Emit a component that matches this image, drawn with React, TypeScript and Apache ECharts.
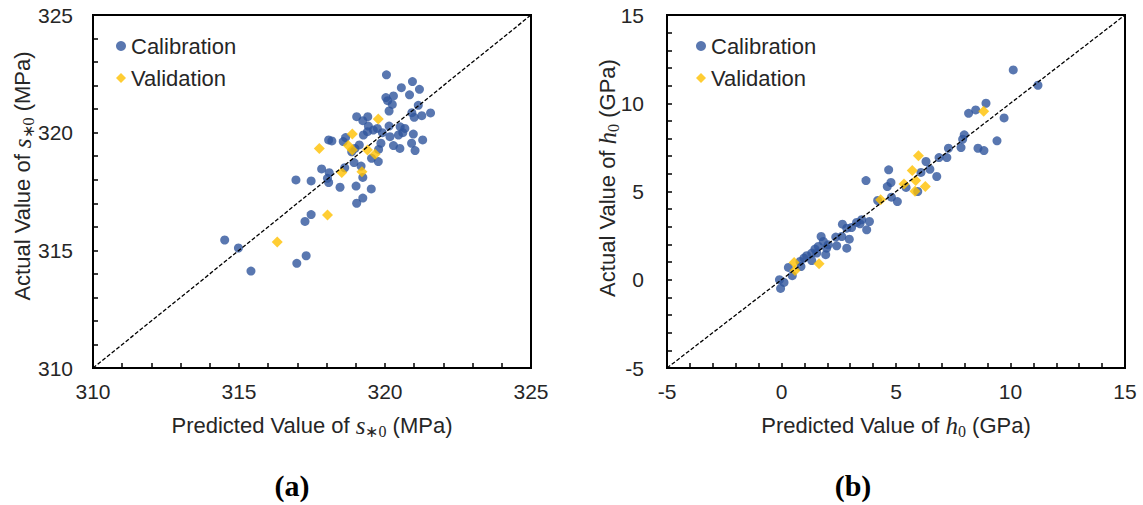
import React, { useEffect, useRef } from "react";
import * as echarts from "echarts";

// Panel (a): s*0 (MPa)   [predicted, actual]
const calA: number[][] = [
  [320.05, 322.46], [320.94, 322.17], [320.56, 321.91], [321.18, 321.84], [320.84, 321.61],
  [320.03, 321.49], [320.29, 321.56], [320.09, 321.36], [320.25, 321.2], [321.14, 321.16],
  [320.14, 320.92], [320.92, 320.85], [321.56, 320.84], [321.26, 320.72], [321.0, 320.65],
  [319.03, 320.68], [319.41, 320.68], [319.24, 320.51], [319.43, 320.28], [320.14, 320.28],
  [319.6, 320.11], [319.4, 320.04], [319.74, 320.18], [319.91, 320.0], [320.52, 320.25],
  [320.68, 320.18], [320.61, 320.0], [320.46, 319.9], [320.17, 319.83], [319.26, 319.9],
  [320.97, 319.94], [321.29, 319.69], [320.91, 319.55], [320.29, 319.45], [320.51, 319.33],
  [321.03, 319.24], [319.86, 319.55], [319.12, 319.48], [319.78, 319.29], [318.07, 319.69],
  [318.18, 319.65], [318.65, 319.79], [318.57, 319.62], [318.97, 319.33], [318.86, 319.19],
  [319.54, 318.91], [319.77, 318.77], [318.94, 318.73], [319.18, 318.58], [317.83, 318.46],
  [318.09, 318.3], [318.03, 318.06], [318.62, 318.51], [319.24, 318.1], [316.95, 317.99],
  [317.47, 317.95], [318.07, 317.88], [318.46, 317.68], [319.01, 317.73], [319.53, 317.61],
  [319.24, 317.22], [319.03, 317.0], [317.47, 316.52], [317.26, 316.23], [314.51, 315.44],
  [314.98, 315.1], [315.41, 314.12], [316.98, 314.45], [317.3, 314.77],
];
const valA: number[][] = [
  [319.77, 320.58], [318.88, 319.94], [317.75, 319.33], [318.74, 319.45], [318.88, 319.26],
  [319.4, 319.26], [319.66, 319.08], [318.52, 318.31], [319.21, 318.34], [318.03, 316.5],
  [316.31, 315.35],
];
const diagA: number[][] = [[310, 310], [325, 325]];

// Panel (b): h0 (GPa)   [predicted, actual]
const calB: number[][] = [
  [10.12, 11.89], [11.2, 11.02], [8.93, 10.0], [8.48, 9.62], [8.17, 9.43], [9.72, 9.17],
  [9.41, 7.87], [8.58, 7.45], [8.84, 7.32], [7.98, 8.21], [7.91, 7.96], [7.84, 7.49],
  [7.29, 7.45], [6.88, 6.92], [7.22, 6.92], [6.31, 6.7], [6.09, 6.08], [6.48, 6.26],
  [6.78, 5.85], [5.44, 5.23], [5.95, 5.0], [4.68, 6.23], [4.78, 5.51], [4.62, 5.28],
  [4.8, 4.68], [5.06, 4.43], [4.2, 4.49], [3.69, 5.62], [3.72, 2.83], [3.84, 3.3],
  [3.5, 3.4], [3.28, 3.25], [3.06, 2.96], [2.85, 2.92], [2.66, 3.15], [2.85, 1.79],
  [2.96, 2.3], [2.63, 2.45], [2.37, 2.42], [2.41, 1.92], [1.93, 1.42], [1.73, 2.45],
  [1.83, 2.17], [1.61, 1.89], [1.46, 1.74], [1.32, 1.51], [1.1, 1.36], [1.32, 1.09],
  [0.98, 1.23], [0.81, 1.04], [0.85, 0.75], [0.3, 0.7], [0.47, 0.23], [0.11, -0.15],
  [-0.09, 0.0], [-0.04, -0.49], [1.97, 1.79], [1.54, 1.51], [2.04, 1.98], [3.43, 3.17],
];
const valB: number[][] = [
  [8.83, 9.55], [5.98, 7.02], [5.71, 6.19], [5.86, 5.62], [5.35, 5.43], [6.28, 5.28],
  [5.83, 5.02], [4.33, 4.53], [0.55, 0.98], [0.59, 0.53], [1.64, 0.91],
];
const diagB: number[][] = [[-5, -5], [15, 15]];

const legendNames = ["Calibration", "Validation"];
const panelLabels = ["(a)", "(b)"];

const BLUE = "#2F559C";
const GOLD = "#FFC000";
const TEXT = "#262626";
const SANS = "Liberation Sans, Arial, sans-serif";
const SERIF = "Liberation Serif, Times New Roman, serif";

function axisCfg(min: number, max: number, grid: number, margin: number) {
  return {
    type: "value",
    gridIndex: grid,
    min,
    max,
    interval: 5,
    axisLine: { show: true, onZero: false, lineStyle: { color: "#000", width: 2 } },
    axisTick: { show: true, inside: true, length: 5, lineStyle: { color: "#000", width: 1.5 } },
    minorTick: { show: true, splitNumber: 5, length: 5, lineStyle: { color: "#000", width: 1.5 } },
    splitLine: { show: false },
    axisLabel: { fontSize: 21, color: TEXT, fontFamily: SANS, margin },
  };
}

const rich = {
  m: { fontFamily: SERIF, fontStyle: "italic", fontSize: 25, color: TEXT },
  sub: { fontFamily: SERIF, fontSize: 16, color: TEXT, verticalAlign: "bottom", lineHeight: 28 },
};

function nameText(x: number, y: number, text: string, rotated: boolean) {
  return {
    type: "text",
    x,
    y,
    rotation: rotated ? Math.PI / 2 : 0,
    style: {
      text,
      rich,
      fontFamily: SANS,
      fontSize: 22,
      fill: TEXT,
      align: "center",
      verticalAlign: "middle",
    },
  };
}

function legendCfg(left: number) {
  return {
    left, top: 30, orient: "vertical", itemGap: 10, itemWidth: 10, itemHeight: 10,
    selectedMode: false,
    textStyle: { fontSize: 22, color: TEXT, fontFamily: SANS },
    data: [{ name: legendNames[0], icon: "circle" }, { name: legendNames[1], icon: "diamond" }],
  };
}

export default function App() {
  const ref = useRef<HTMLDivElement>(null);
  useEffect(() => {
    if (!ref.current) return;
    const chart = echarts.init(ref.current, null, { renderer: "svg" });
    const dash = { color: "#000", width: 1.3, type: [4, 2] };
    chart.setOption({
      animation: false,
      backgroundColor: "#fff",
      grid: [
        { left: 93, top: 15, width: 438, height: 353, show: true, borderColor: "#000", borderWidth: 2 },
        { left: 667, top: 15, width: 458, height: 353, show: true, borderColor: "#000", borderWidth: 2 },
      ],
      xAxis: [axisCfg(310, 325, 0, 13), axisCfg(-5, 15, 1, 13)],
      yAxis: [axisCfg(310, 325, 0, 20), axisCfg(-5, 15, 1, 23)],
      legend: [legendCfg(111), legendCfg(691)],
      series: [
        { type: "scatter", name: legendNames[0], xAxisIndex: 0, yAxisIndex: 0, data: calA, symbol: "circle", symbolSize: 9, itemStyle: { color: BLUE } },
        { type: "scatter", name: legendNames[1], xAxisIndex: 0, yAxisIndex: 0, data: valA, symbol: "diamond", symbolSize: 11, itemStyle: { color: GOLD } },
        { type: "line", name: "diagA", xAxisIndex: 0, yAxisIndex: 0, data: diagA, symbol: "none", z: 5, lineStyle: dash },
        { type: "scatter", name: legendNames[0], xAxisIndex: 1, yAxisIndex: 1, data: calB, symbol: "circle", symbolSize: 9, itemStyle: { color: BLUE } },
        { type: "scatter", name: legendNames[1], xAxisIndex: 1, yAxisIndex: 1, data: valB, symbol: "diamond", symbolSize: 11, itemStyle: { color: GOLD } },
        { type: "line", name: "diagB", xAxisIndex: 1, yAxisIndex: 1, data: diagB, symbol: "none", z: 5, lineStyle: dash },
      ],
      graphic: [
        nameText(312, 425, "Predicted Value of {m|s}{sub|∗0} (MPa)", false),
        nameText(22, 176, "Actual Value of {m|s}{sub|∗0} (MPa)", true),
        nameText(896, 425, "Predicted Value of {m|h}{sub|0} (GPa)", false),
        nameText(607, 178, "Actual Value of {m|h}{sub|0} (GPa)", true),
        {
          type: "text", x: 292, y: 485,
          style: { text: panelLabels[0], fontFamily: SERIF, fontWeight: "bold", fontSize: 30, fill: "#000", align: "center", verticalAlign: "middle" },
        },
        {
          type: "text", x: 853, y: 485,
          style: { text: panelLabels[1], fontFamily: SERIF, fontWeight: "bold", fontSize: 30, fill: "#000", align: "center", verticalAlign: "middle" },
        },
      ],
    });
    return () => chart.dispose();
  }, []);
  return <div ref={ref} style={{ position: "absolute", left: 0, top: 0, width: 1143, height: 505 }} />;
}
